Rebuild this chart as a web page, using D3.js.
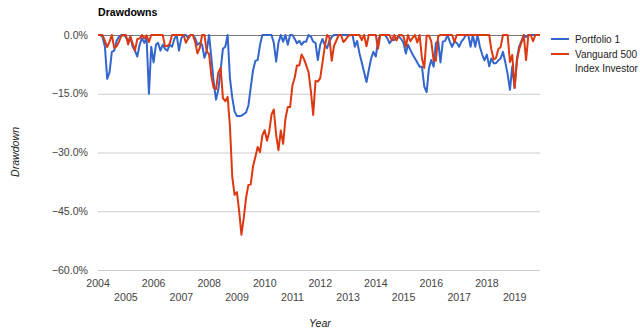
<!DOCTYPE html>
<html>
<head>
<meta charset="utf-8">
<script src="https://cdn.jsdelivr.net/npm/d3@7"></script>
<style>
  html, body { margin: 0; padding: 0; background: #fff; }
  svg { display: block; font-family: Arial, "Liberation Sans", sans-serif; }
</style>
</head>
<body>
<svg id="chart" width="640" height="335"></svg>
<script>
// ---- data ----
const title = "Drawdowns";
const seriesNames = ["Portfolio 1", "Vanguard 500 Index Investor"];
const firstMonthEnd = [2003, 12]; // first data point: end of Dec 2003, then monthly
const yTicks = [0, -15, -30, -45, -60];
const yearTicks = [2004, 2005, 2006, 2007, 2008, 2009, 2010, 2011, 2012, 2013, 2014, 2015, 2016, 2017, 2018, 2019];

const portfolio1 = [
  0,
  0, -0.5, -3, -11.2, -9.5, -4.3, -4, -1.5, -0.5, 0, 0, -0.5,
  -1.5, -0.5, -3, -4, -5.5, -2.5, -0.8, -2, -0.8, -15, -3, -7,
  -2.5, -2, -4, -2.5, -3.5, -4, -2.5, -3, -1, 0, -4, -0.8,
  0, 0, -0.8, 0, 0, -0.8, -2.5, -2, -2.5, -5.8, -4, 0,
  -6, -12, -16.5, -14, -9, -3.5, -3, 0, -11, -16, -19.5, -20.7,
  -20.7, -20.6, -20.2, -19.8, -18, -13.5, -9, -6.6, -6.4, -2.5, 0, 0,
  0, 0, 0, -2, -6.8, -2, 0, -1.7, 0, -2.5, 0, 0,
  -1, -2.1, -1.5, -2.5, -1.7, -1.7, 0, -0.4, -1.7, -2, -6.4, -2.5,
  -1, -2.5, -3.4, -1.5, -0.5, 0, 0, 0, 0, 0, 0, 0,
  0, 0, -3, -1.5, -4.7, -7, -9.5, -12, -9, -6, -4.3, -5.5,
  -1.3, 0, 0, 0, -0.8, -2.1, -1.3, -1.3, -0.8, -0.4, -1, -2,
  -4.7, -2.5, -3.8, -5, -6, -7, -8.1, -8.1, -13.2, -14.6, -8.5, -6.4,
  -8.1, -2.1, -1.5, -7, -1.7, -1.5, 0, -1.7, -3, -1.7, -2, -3,
  -1.7, -1, 0, 0, -3, 0, -3, 0, -3, -5, -6.5, -5,
  -8, -6, -7.2, -7.2, -6.5, -6, -4.3, -7, -10, -14, -8, -13.5,
  -6, -3, -1.5, 0, -0.5, 0, 0, 0, 0, 0, 0
];

const vanguard500 = [
  0,
  0, 0, -1.5, -3.1, -1.7, 0, -3.3, -2.9, -1.8, -0.3, 0, 0,
  -2.4, -0.4, -2.2, -4.0, -1.0, -0.9, 0, -0.9, -0.1, -1.8, 0, 0,
  0, 0, 0, 0, -2.9, -2.8, -2.2, 0, 0, 0, 0, 0,
  0, -2.0, -0.9, 0, 0, -1.7, -4.7, -3.3, 0, 0, -4.2, -4.9,
  -10.6, -13.5, -13.8, -9.6, -8.4, -16.1, -16.9, -15.8, -23.3, -36.2, -40.8, -40.1,
  -45.2, -51.0, -46.7, -41.6, -38.3, -38.2, -33.5, -31.1, -28.6, -29.9, -25.7, -24.3,
  -27.0, -24.8, -20.3, -19.0, -25.5, -29.4, -24.4, -27.8, -21.4, -18.4, -18.4, -12.9,
  -10.8, -7.8, -7.8, -5.0, -6.1, -7.7, -9.5, -14.4, -20.4, -11.7, -11.9, -11.0,
  -7.0, -3.0, 0, -0.6, -6.6, -2.8, -1.4, 0, 0, -1.8, -1.2, -0.3,
  0, 0, 0, 0, 0, -1.3, 0, -2.9, 0, 0, 0, 0,
  -3.5, 0, 0, 0, 0, 0, -1.4, 0, -1.4, 0, 0, -0.3,
  -3.0, 0, -1.6, -0.7, 0, -1.9, 0, -6.0, -8.4, -0.2, -0.1, -1.6,
  -6.5, -6.6, -0.3, 0, 0, 0, 0, 0, 0, -1.8, 0, 0,
  0, 0, 0, 0, 0, 0, 0, 0, 0, 0, 0, 0,
  0, -3.7, -6.2, -5.9, -3.6, -3.1, 0, 0, 0, -6.9, -5.1, -13.5,
  -6.6, -3.7, -1.9, 0, -6.4, 0, 0, -1.6, 0, 0, 0
];

const colors = ["#3366cc", "#dc3912"];

// ---- build ----
const dates = portfolio1.map((_, i) => new Date(firstMonthEnd[0], firstMonthEnd[1] + i, 0));
const svg = d3.select("#chart");
const plotLeft = 98, plotRight = 540, plotTop = 35, plotBottom = 270;
const fs = 10.6;

const x = d3.scaleTime().domain([dates[0], dates[dates.length - 1]]).range([plotLeft, plotRight]);
const y = d3.scaleLinear().domain([-60, 0]).range([plotBottom, plotTop]);

// title
svg.append("text").attr("x", 98).attr("y", 15.5).attr("font-size", fs).attr("font-weight", "bold")
  .attr("fill", "#000").text(title);

// gridlines
svg.append("g").selectAll("line").data(yTicks.filter(d => d !== 0)).join("line")
  .attr("x1", plotLeft).attr("x2", plotRight)
  .attr("y1", d => y(d) + 0.5).attr("y2", d => y(d) + 0.5)
  .attr("stroke", "#cccccc").attr("stroke-width", 1);

// y tick labels
svg.append("g").selectAll("text").data(yTicks).join("text")
  .attr("x", 88).attr("y", d => y(d)).attr("dy", "0.35em")
  .attr("text-anchor", "end").attr("font-size", fs).attr("fill", "#444")
  .text(d => d3.format(".1f")(d) + "%");

// x tick labels (two staggered rows)
svg.append("g").selectAll("text").data(yearTicks).join("text")
  .attr("x", d => x(new Date(d, 0, 1)))
  .attr("y", (d, i) => i % 2 === 0 ? 283 : 297).attr("dy", "0.35em")
  .attr("text-anchor", "middle").attr("font-size", fs).attr("fill", "#444")
  .text(d => d);

// baseline
svg.append("line").attr("x1", plotLeft).attr("x2", plotRight)
  .attr("y1", y(0) + 0.5).attr("y2", y(0) + 0.5)
  .attr("stroke", "#777").attr("stroke-width", 1);

// lines
const line = d3.line().x((d, i) => x(dates[i])).y(d => y(d));
[portfolio1, vanguard500].forEach((s, i) => {
  svg.append("path").datum(s).attr("d", line)
    .attr("fill", "none").attr("stroke", colors[i]).attr("stroke-width", 2)
    .attr("stroke-linejoin", "round");
});

// axis titles
svg.append("text").attr("x", 320).attr("y", 323).attr("dy", "0.35em")
  .attr("text-anchor", "middle").attr("font-size", fs).attr("font-style", "italic")
  .attr("fill", "#222").text("Year");
svg.append("text").attr("transform", "translate(15,152) rotate(-90)").attr("dy", "0.35em")
  .attr("text-anchor", "middle").attr("font-size", fs).attr("font-style", "italic")
  .attr("fill", "#222").text("Drawdown");

// legend
const legend = svg.append("g");
const legendLines = [["Portfolio 1"], ["Vanguard 500", "Index Investor"]];
legendLines.forEach((lines, i) => {
  const ly = 39 + i * 15;
  legend.append("line").attr("x1", 551).attr("x2", 569).attr("y1", ly).attr("y2", ly)
    .attr("stroke", colors[i]).attr("stroke-width", 2);
  const t = legend.append("text").attr("x", 575).attr("y", ly)
    .attr("font-size", 10).attr("fill", "#222");
  lines.forEach((l, j) => {
    t.append("tspan").attr("x", 575).attr("dy", j === 0 ? "0.35em" : "14.3").text(l);
  });
});
</script>
</body>
</html>
